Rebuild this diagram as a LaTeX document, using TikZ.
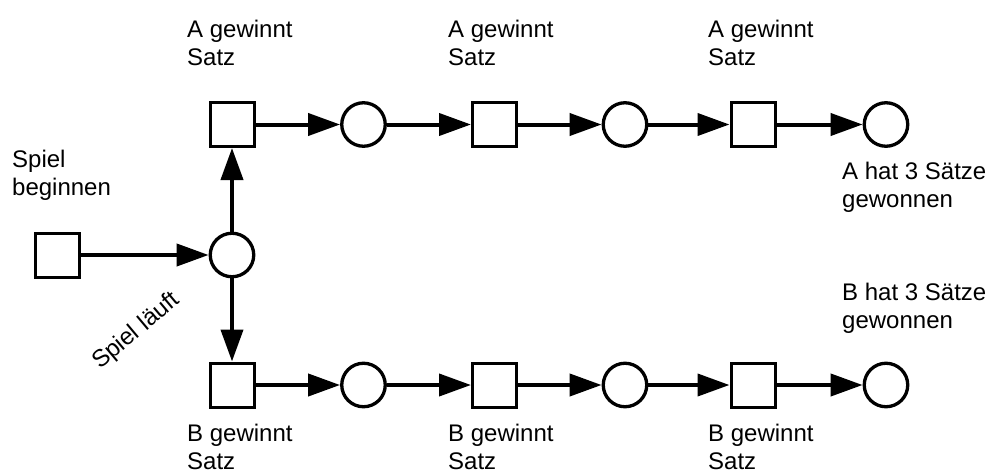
\documentclass[tikz,border=0pt]{standalone}
\usepackage{fontspec}
\setmainfont{Liberation Sans}
\usetikzlibrary{arrows.meta}
\begin{document}
\begin{tikzpicture}[x=1pt,y=-1pt,
  trans/.style={draw,line width=3pt,minimum size=44pt,inner sep=0pt,shape=rectangle},
  place/.style={draw,line width=3.3pt,minimum size=43.5pt,inner sep=0pt,shape=circle},
  flow/.style={line width=4pt,-{Triangle[length=32pt,width=22pt]}},
  lbl/.style={anchor=north west,inner sep=0pt,align=left,font=\fontsize{24}{27.5}\selectfont}]
\useasboundingbox (0,0) rectangle (1004,471);
% nodes
\node[trans] (start) at (57,255) {};
\node[place] (run) at (232,255) {};
\node[trans] (a1) at (232,124.5) {};
\node[place] (pa1) at (363.5,124.5) {};
\node[trans] (a2) at (494.5,124.5) {};
\node[place] (pa2) at (625,124.5) {};
\node[trans] (a3) at (753,124.5) {};
\node[place] (pa3) at (886,124.5) {};
\node[trans] (b1) at (232,385) {};
\node[place] (pb1) at (363.5,385) {};
\node[trans] (b2) at (494.5,385) {};
\node[place] (pb2) at (625,385) {};
\node[trans] (b3) at (753,385) {};
\node[place] (pb3) at (886,385) {};
% connectors
\draw[flow] (start) -- (run);
\draw[flow] (run) -- (a1);
\draw[flow] (run) -- (b1);
\draw[flow] (a1) -- (pa1);
\draw[flow] (pa1) -- (a2);
\draw[flow] (a2) -- (pa2);
\draw[flow] (pa2) -- (a3);
\draw[flow] (a3) -- (pa3);
\draw[flow] (b1) -- (pb1);
\draw[flow] (pb1) -- (b2);
\draw[flow] (b2) -- (pb2);
\draw[flow] (pb2) -- (b3);
\draw[flow] (b3) -- (pb3);
% labels
\node[lbl] (lstart) at (12,150) {Spiel\\beginnen};
\node[lbl] (la1) at (187,20) {A gewinnt\\Satz};
\node[lbl] (la2) at (448,20) {A gewinnt\\Satz};
\node[lbl] (la3) at (708,20) {A gewinnt\\Satz};
\node[lbl] (lb1) at (187,424) {B gewinnt\\Satz};
\node[lbl] (lb2) at (448,424) {B gewinnt\\Satz};
\node[lbl] (lb3) at (708,424) {B gewinnt\\Satz};
\node[lbl] (lpa) at (842,162) {A hat 3 Sätze\\gewonnen};
\node[lbl] (lpb) at (842,283) {B hat 3 Sätze\\gewonnen};
\node[anchor=base west,inner sep=0pt,rotate=40,font=\fontsize{24}{28}\selectfont] (lrun) at (100,370) {Spiel läuft};
\end{tikzpicture}
\end{document}
